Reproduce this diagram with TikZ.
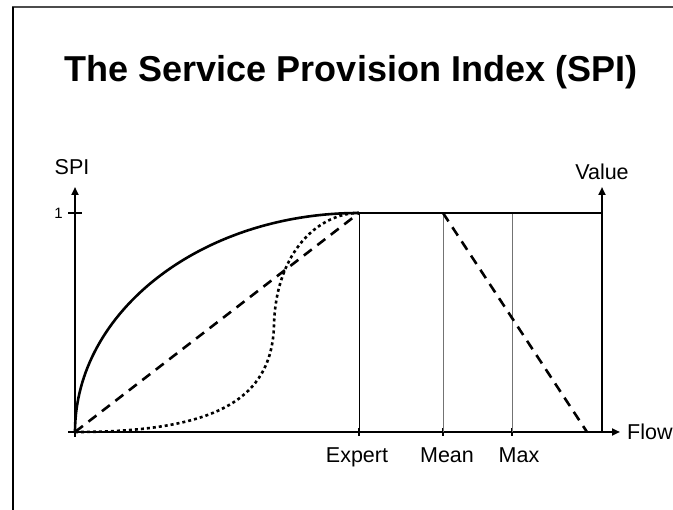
\documentclass[tikz,border=0pt]{standalone}
\usepackage{fontspec}
\setmainfont{Liberation Sans}
\usetikzlibrary{arrows.meta}

\begin{document}
\begin{tikzpicture}[x=1pt, y=-1pt,
        axis/.style={line width=2.6pt, -{Triangle[length=8pt, width=7pt]}},
        curve/.style={line width=2.6pt},
        guide/.style={line width=0.9pt},
        lbl/.style={font=\fontsize{21.5}{24}\selectfont, inner sep=0pt}]
        \useasboundingbox (0,0) rectangle (673,510);

        \draw[line width=2pt, black!70] (12,7) -- (673,7);
        \draw[line width=2pt] (13,7) -- (13,510);

        \node[font=\fontsize{36}{40}\selectfont\bfseries, anchor=base, inner sep=0pt] at (351,82) (title) {The Service Provision Index (SPI)};

        \coordinate (O) at (75,432);
        \coordinate (xstart) at (68,432);
        \coordinate (ystart) at (75,437);
        \coordinate (xend) at (620,432);
        \coordinate (ytop) at (75,187);
        \coordinate (vbot) at (602,432);
        \coordinate (vtop) at (602,187);
        \coordinate (expert) at (359,432);
        \coordinate (mean) at (443,432);
        \coordinate (max) at (512,432);
        \coordinate (experttop) at (359,213);
        \coordinate (meantop) at (443,213);
        \coordinate (maxtop) at (512,213);
        \coordinate (zero) at (587,432);

        \draw[axis] (xstart) -- (xend);
        \draw[axis] (ystart) -- (ytop);
        \draw[axis] (vbot) -- (vtop);

        \node[lbl] at (72,167) (spi) {SPI};
        \node[lbl] at (602,172) (value) {Value};
        \node[lbl, anchor=west] at (627,432) (flow) {Flow};
        \node[lbl, anchor=east, font=\fontsize{15}{18}\selectfont] at (63,213) (onelbl) {1};
        \node[lbl, anchor=base] at (357,463) (expertlbl) {Expert};
        \node[lbl, anchor=base] at (447,463) (meanlbl) {Mean};
        \node[lbl, anchor=base] at (519,463) (maxlbl) {Max};

        \draw[line width=2pt] (68,213) -- (82,213);
        \foreach \p in {expert, mean, max}
            \draw[line width=2.6pt] ([yshift=-4pt]\p) -- ([yshift=4pt]\p);

        \draw[guide] (expert) -- (experttop);
        \draw[guide, black!55] (mean) -- (meantop);
        \draw[guide, black!55] (max) -- (maxtop);

        \draw[curve] (experttop) -- (vbot |- experttop);
        \draw[curve] (O) arc[start angle=180, end angle=90, x radius=284, y radius=-219];
        \draw[curve, dash pattern=on 10pt off 7pt] (O) -- (experttop);
        \draw[curve, dash pattern=on 10pt off 7pt] (meantop) -- (zero);
        \draw[curve, dash pattern=on 3pt off 3pt] (O) .. controls (215,432) and (272,400) .. (274,325)
            .. controls (276,250) and (320,213) .. (experttop);

        \end{tikzpicture}
\end{document}
